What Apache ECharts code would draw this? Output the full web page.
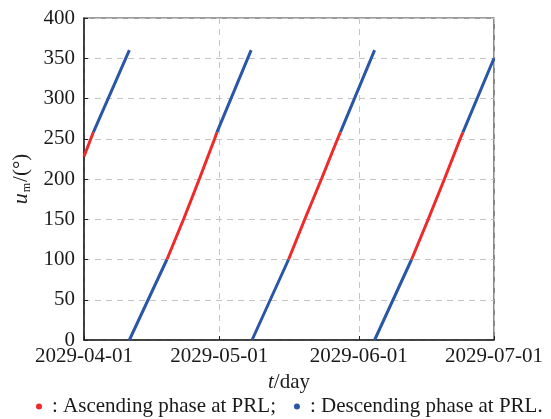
<!DOCTYPE html>
<html>
<head>
<meta charset="utf-8">
<script src="https://cdn.jsdelivr.net/npm/echarts@6/dist/echarts.min.js"></script>
<style>
  html, body { margin: 0; padding: 0; background: #fff; }
  #chart { width: 551px; height: 419px; }
</style>
</head>
<body>
<div id="chart"></div>
<script>
// ---- data (day offsets from start date, argument of latitude u_m in degrees) ----
const startDate = [2029, 3, 1];           // 2029-04-01
const endDay = 91;                        // 2029-07-01
const yTicks = [0, 50, 100, 150, 200, 250, 300, 350, 400];

// Ascending phase at PRL (red pieces)
const ascDays = [
  [0, 2.07],
  [18.4, 22.1, 25.6, 29.0, 29.5],
  [45.4, 49.0, 52.7, 56.3, 56.9],
  [72.7, 76.4, 80.0, 83.5, 84.1]
];
const ascU = [
  [228, 258],
  [100, 150, 200, 250, 258],
  [100, 150, 200, 250, 258],
  [100, 150, 200, 250, 258]
];

// Descending phase at PRL (blue pieces)
const descDays = [
  [2.07, 10.07],
  [10.07, 18.4],
  [29.5, 37.1],
  [37.3, 45.4],
  [56.9, 64.5],
  [64.5, 72.7],
  [84.1, 91]
];
const descU = [
  [258, 360],
  [0, 100],
  [258, 360],
  [0, 100],
  [258, 360],
  [0, 100],
  [258, 350]
];

const ascName = ': Ascending phase at PRL;';
const descName = ': Descending phase at PRL.';

// ---- build ----
const DAY = 86400000;
const t0 = new Date(startDate[0], startDate[1], startDate[2]).getTime();
function build(daysArr, uArr) {
  const out = [];
  daysArr.forEach((ds, i) => {
    ds.forEach((d, j) => out.push([t0 + d * DAY, uArr[i][j]]));
    out.push([null, null]);
  });
  return out;
}
function fmt(v) {
  const d = new Date(v);
  const p = n => (n < 10 ? '0' : '') + n;
  return d.getFullYear() + '-' + p(d.getMonth() + 1) + '-' + p(d.getDate());
}

const FONT = 'Liberation Serif';
const chart = echarts.init(document.getElementById('chart'));
chart.setOption({
  animation: false,
  backgroundColor: '#fff',
  textStyle: { fontFamily: FONT, color: '#1a1a1a' },
  grid: {
    left: 84, right: 57, top: 18, bottom: 79,
    show: true, borderColor: '#3a3a3a', borderWidth: 1.2
  },
  legend: {
    left: 31, top: 391,
    icon: 'circle', itemWidth: 6, itemHeight: 6, itemGap: 18,
    textStyle: { fontFamily: FONT, fontSize: 21, color: '#1a1a1a', padding: [0, 0, 0, 5] },
    data: [ascName, descName]
  },
  xAxis: {
    type: 'time',
    min: t0,
    max: t0 + endDay * DAY,
    splitNumber: 3,
    name: '{i|t}/day',
    nameLocation: 'middle',
    nameGap: 32,
    nameTextStyle: {
      fontFamily: FONT, fontSize: 21, color: '#1a1a1a',
      rich: { i: { fontFamily: FONT, fontSize: 21, fontStyle: 'italic', color: '#1a1a1a' } }
    },
    axisLine: { lineStyle: { color: '#222', width: 1.5 } },
    axisTick: { inside: true, length: 4, lineStyle: { color: '#222' } },
    minorTick: { show: false },
    axisLabel: {
      formatter: fmt, fontFamily: FONT, fontSize: 21, color: '#1a1a1a', margin: 6,
      showMinLabel: true, showMaxLabel: true, hideOverlap: false
    },
    splitLine: { show: true, lineStyle: { color: '#c4c4c4', type: [6, 5], width: 1 } }
  },
  yAxis: {
    type: 'value',
    min: yTicks[0],
    max: yTicks[yTicks.length - 1],
    interval: yTicks[1] - yTicks[0],
    name: '{i|u}{s|m}/(°)',
    nameLocation: 'middle',
    nameGap: 44,
    nameTextStyle: {
      fontFamily: FONT, fontSize: 21, color: '#1a1a1a',
      rich: {
        i: { fontFamily: FONT, fontSize: 22, fontStyle: 'italic', color: '#1a1a1a' },
        s: { fontFamily: FONT, fontSize: 12, color: '#1a1a1a', verticalAlign: 'bottom', padding: [0, 1, 0, 1] }
      }
    },
    axisLine: { show: true, lineStyle: { color: '#222', width: 1.5 } },
    axisTick: { show: true, inside: true, length: 4, lineStyle: { color: '#222' } },
    axisLabel: { fontFamily: FONT, fontSize: 21, color: '#1a1a1a', margin: 9 },
    splitLine: { show: true, lineStyle: { color: '#c4c4c4', type: [6, 5], width: 1 } }
  },
  series: [
    {
      name: ascName, type: 'line', showSymbol: false, symbol: 'circle',
      connectNulls: false, z: 3,
      itemStyle: { color: '#ee2a2a' },
      lineStyle: { color: '#ee2a2a', width: 3 },
      data: build(ascDays, ascU)
    },
    {
      name: descName, type: 'line', showSymbol: false, symbol: 'circle',
      connectNulls: false, z: 2,
      itemStyle: { color: '#2a56a6' },
      lineStyle: { color: '#2a56a6', width: 3 },
      data: build(descDays, descU)
    }
  ]
});
</script>
</body>
</html>
